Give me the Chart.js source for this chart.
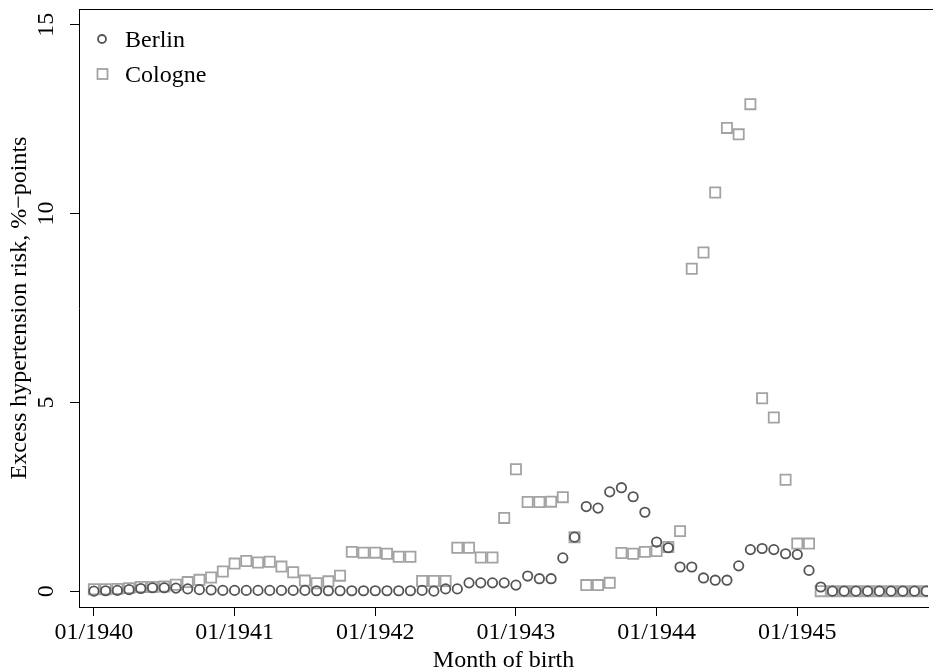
<!DOCTYPE html>
<html>
<head>
<meta charset="utf-8">
<script src="https://cdn.jsdelivr.net/npm/chart.js@4/dist/chart.umd.min.js"></script>
<style>
  html, body { margin: 0; padding: 0; background: #fff; overflow: hidden; }
</style>
</head>
<body>
<canvas id="chart" width="937" height="672"></canvas>
<script>
// months since 01/1940
const months = Array.from({ length: 72 }, (_, i) => i);

const berlin = [
  0.00, 0.01, 0.02, 0.04, 0.07, 0.09, 0.09, 0.08, 0.06, 0.04, 0.03, 0.02,
  0.02, 0.02, 0.02, 0.02, 0.02, 0.02, 0.02, 0.01, 0.01, 0.01, 0.01, 0.01,
  0.01, 0.01, 0.01, 0.01, 0.02, 0.00, 0.06, 0.06, 0.22, 0.22, 0.22, 0.22,
  0.16, 0.40, 0.33, 0.33, 0.88, 1.43, 2.24, 2.20, 2.63, 2.74, 2.50, 2.09,
  1.30, 1.15, 0.64, 0.64, 0.35, 0.29, 0.29, 0.67, 1.10, 1.13, 1.10, 0.99,
  0.97, 0.55, 0.11, 0.00, 0.00, 0.00, 0.00, 0.00, 0.00, 0.00, 0.00, 0.00
];

const cologne = [
  0.05, 0.05, 0.06, 0.08, 0.11, 0.11, 0.12, 0.17, 0.24, 0.30, 0.36, 0.52,
  0.73, 0.80, 0.76, 0.78, 0.65, 0.50, 0.28, 0.21, 0.26, 0.41, 1.04, 1.02,
  1.02, 0.99, 0.91, 0.91, 0.27, 0.27, 0.27, 1.15, 1.15, 0.89, 0.89, 1.94,
  3.23, 2.36, 2.36, 2.37, 2.49, 1.43, 0.16, 0.16, 0.22, 1.01, 0.99, 1.04,
  1.06, 1.17, 1.59, 8.54, 8.97, 10.56, 12.27, 12.10, 12.90, 5.11, 4.60, 2.95,
  1.26, 1.26, 0.00, 0.00, 0.00, 0.00, 0.00, 0.00, 0.00, 0.00, 0.00, 0.00
];

const xTickMonths = [0, 12, 24, 36, 48, 60];
const xTickLabels = ["01/1940", "01/1941", "01/1942", "01/1943", "01/1944", "01/1945"];
const yTicks = [0, 5, 10, 15];

const serif = "'Liberation Serif', 'Times New Roman', serif";
const darkGrey = "#555555";
const lightGrey = "#a3a3a3";

// box top line + legend inside the plot
const frameAndLegend = {
  id: "frameAndLegend",
  afterDraw(chart) {
    const ctx = chart.ctx;
    const a = chart.chartArea;
    ctx.save();
    ctx.strokeStyle = "#000";
    ctx.lineWidth = 1;
    ctx.beginPath();
    ctx.moveTo(a.left, a.top + 0.5);
    ctx.lineTo(a.right + 5, a.top + 0.5);
    ctx.stroke();

    ctx.font = "24px " + serif;
    ctx.fillStyle = "#000";
    ctx.textBaseline = "alphabetic";
    ctx.lineWidth = 1.8;

    const ds = chart.data.datasets;
    // Berlin
    ctx.strokeStyle = darkGrey;
    ctx.beginPath();
    ctx.arc(102, 39, 4, 0, Math.PI * 2);
    ctx.stroke();
    ctx.fillText(ds[0].label, 125, 47);
    // Cologne
    ctx.strokeStyle = lightGrey;
    ctx.strokeRect(97.5, 69, 10, 10);
    ctx.fillText(ds[1].label, 125, 82);
    ctx.restore();
  }
};

new Chart(document.getElementById("chart"), {
  type: "scatter",
  data: {
    datasets: [
      {
        label: "Berlin",
        data: months.map((m, i) => ({ x: m, y: berlin[i] })),
        pointStyle: "circle",
        pointRadius: 4.7,
        borderWidth: 1.8,
        borderColor: darkGrey,
        backgroundColor: "rgba(0,0,0,0)",
        order: 0
      },
      {
        label: "Cologne",
        data: months.map((m, i) => ({ x: m, y: cologne[i] })),
        pointStyle: "rect",
        pointRadius: 7.2,
        borderWidth: 1.8,
        borderColor: lightGrey,
        backgroundColor: "rgba(0,0,0,0)",
        order: 1
      }
    ]
  },
  options: {
    responsive: false,
    animation: false,
    events: [],
    layout: { padding: { top: 6, left: 0, right: 0, bottom: 0 } },
    plugins: {
      legend: { display: false },
      tooltip: { enabled: false }
    },
    scales: {
      x: {
        type: "linear",
        min: -1.27,
        max: 71.15,
        afterBuildTicks: (scale) => { scale.ticks = xTickMonths.map(v => ({ value: v })); },
        afterFit: (scale) => { scale.height = 65; scale.paddingLeft = 0; scale.paddingRight = 0; },
        ticks: {
          autoSkip: false,
          maxRotation: 0,
          padding: 2,
          color: "#000",
          font: { family: serif, size: 24 },
          callback: (v) => xTickLabels[xTickMonths.indexOf(v)]
        },
        grid: { drawOnChartArea: false, drawTicks: true, tickLength: 9, color: "#000" },
        border: { display: true, color: "#000", width: 1 },
        title: {
          display: true,
          text: "Month of birth",
          color: "#000",
          font: { family: serif, size: 24, lineHeight: 1 },
          padding: { bottom: -1, top: 0 }
        }
      },
      y: {
        min: -0.42,
        max: 15.42,
        afterBuildTicks: (scale) => { scale.ticks = yTicks.map(v => ({ value: v })); },
        afterFit: (scale) => { scale.width = 79; scale.paddingTop = 0; scale.paddingBottom = 0; },
        ticks: {
          minRotation: 90,
          maxRotation: 90,
          crossAlign: "center",
          padding: 11,
          color: "#000",
          font: { family: serif, size: 24 }
        },
        grid: { drawOnChartArea: false, drawTicks: true, tickLength: 9, color: "#000" },
        border: { display: true, color: "#000", width: 1 },
        title: {
          display: true,
          text: "Excess hypertension risk, %\u2212points",
          color: "#000",
          font: { family: serif, size: 24, lineHeight: 1 },
          padding: { top: 8, bottom: 0 }
        }
      }
    }
  },
  plugins: [frameAndLegend]
});
</script>
</body>
</html>
